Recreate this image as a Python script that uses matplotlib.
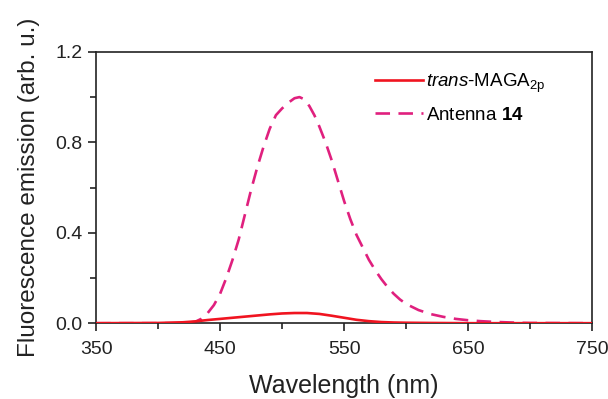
import matplotlib
matplotlib.use("Agg")
import matplotlib.pyplot as plt
from matplotlib.ticker import FixedLocator, MultipleLocator, FormatStrFormatter

plt.rcParams['font.family'] = ['Liberation Sans', 'DejaVu Sans']
plt.rcParams['mathtext.fontset'] = 'custom'
plt.rcParams['mathtext.rm'] = 'Liberation Sans'
plt.rcParams['mathtext.it'] = 'Liberation Sans:italic'
plt.rcParams['mathtext.bf'] = 'Liberation Sans:bold'

# Emission spectrum of the antenna (dashed)
antenna_wl = [350, 400, 420, 430, 435, 440, 445, 450, 455, 460, 465, 470, 475,
              480, 485, 490, 495, 500, 505, 510, 514, 518, 522, 526, 530, 535,
              540, 545, 550, 555, 560, 565, 570, 575, 580, 585, 590, 595, 600,
              610, 620, 630, 640, 650, 660, 670, 680, 690, 700, 750]
antenna_em = [0.0, 0.0, 0.0, 0.006, 0.02, 0.045, 0.08, 0.13, 0.2, 0.28, 0.37,
              0.48, 0.59, 0.69, 0.78, 0.86, 0.92, 0.95, 0.975, 0.995, 1.0, 0.99,
              0.96, 0.92, 0.87, 0.80, 0.72, 0.63, 0.54, 0.46, 0.39, 0.335, 0.28,
              0.235, 0.195, 0.16, 0.13, 0.105, 0.085, 0.058, 0.04, 0.028, 0.019,
              0.013, 0.009, 0.006, 0.004, 0.002, 0.001, 0.0]

# Emission spectrum of trans-MAGA_2p (solid)
maga_wl = [350, 400, 420, 430, 440, 450, 460, 470, 480, 490, 500, 510, 520,
           530, 540, 550, 560, 570, 580, 590, 600, 620, 650, 750]
maga_em = [0.0, 0.001, 0.004, 0.008, 0.014, 0.019, 0.024, 0.029, 0.034, 0.039,
           0.043, 0.045, 0.045, 0.041, 0.033, 0.024, 0.015, 0.009, 0.005, 0.003,
           0.002, 0.001, 0.0, 0.0]

x_major = [350, 450, 550, 650, 750]
x_minor = [400, 500, 600, 700]

fig = plt.figure(figsize=(6.08, 3.99), dpi=100)
ax = fig.add_axes([0.158, 0.19, 0.816, 0.68])

ax.plot(antenna_wl, antenna_em, color='#e0207e', lw=1.9, dashes=(5.5, 3.2),
        label=r'Antenna $\mathbf{14}$', zorder=2)
ax.plot(maga_wl, maga_em, color='#f01420', lw=1.9,
        label=r'$\mathit{trans}$-MAGA$_{\mathrm{2p}}$', zorder=3)

ax.set_xlim(350, 750)
ax.set_ylim(0, 1.2)
ax.xaxis.set_major_locator(FixedLocator(x_major))
ax.xaxis.set_minor_locator(FixedLocator(x_minor))
ax.yaxis.set_major_locator(MultipleLocator(0.4))
ax.yaxis.set_minor_locator(MultipleLocator(0.2))
ax.yaxis.set_major_formatter(FormatStrFormatter('%.1f'))

ax.tick_params(which='both', direction='out', top=False, right=False,
               width=1.2, labelsize=14, colors='#222222')
ax.tick_params(which='major', length=6)
ax.tick_params(axis='x', which='major', pad=7)
ax.tick_params(axis='y', which='major', pad=4)
ax.tick_params(which='minor', length=4)
for s in ax.spines.values():
    s.set_linewidth(1.2)
    s.set_color('#222222')

ax.set_xlabel('Wavelength (nm)', fontsize=18, color='#222222', labelpad=11)
ax.set_ylabel('Fluorescence emission (arb. u.)', fontsize=17.5,
              color='#222222', labelpad=11)

handles, labels = ax.get_legend_handles_labels()
ax.legend(handles[::-1], labels[::-1], loc='upper right', frameon=False,
          fontsize=13.5, handlelength=2.6, handletextpad=0.15,
          bbox_to_anchor=(0.94, 0.99), labelspacing=0.65)

fig.savefig('out.png', dpi=100)
